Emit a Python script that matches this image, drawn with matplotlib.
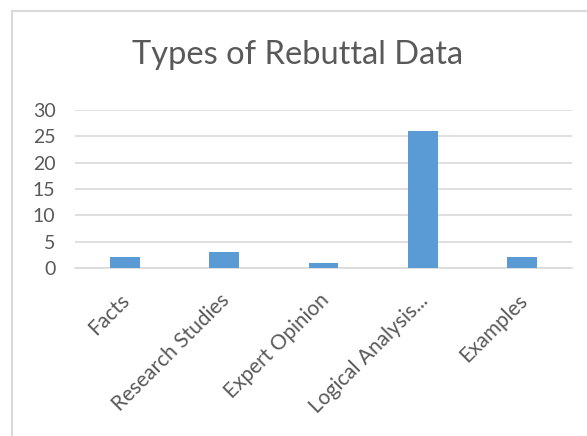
import matplotlib
matplotlib.use("Agg")
import matplotlib.pyplot as plt
from matplotlib.patches import Rectangle
from matplotlib.transforms import ScaledTranslation

# --------------------------------------
# Data
# --------------------------------------
categories = ["Facts", "Research Studies", "Expert Opinion", "Logical Analysis...", "Examples"]
counts = [2, 3, 1, 26, 2]
y_ticks = [0, 5, 10, 15, 20, 25, 30]

title = "Types of Rebuttal Data"
bar_color = "#5b9bd5"
text_color = "#595959"
grid_color = "#d9d9d9"

plt.rcParams["font.family"] = ["Lato", "DejaVu Sans"]

# --------------------------------------
# Figure
# --------------------------------------
fig = plt.figure(figsize=(5.87, 4.36), dpi=100)
fig.patch.set_facecolor("white")

# chart frame (extends past the right/bottom edges of the crop)
frame = Rectangle((12 / 587, -0.2), 1.2, 1.2 - 11 / 436,
                  transform=fig.transFigure, fill=False,
                  edgecolor=grid_color, linewidth=1.5)
fig.patches.append(frame)

ax = fig.add_axes([75 / 587, 168 / 436, 497 / 587, 158 / 436])

x = range(len(categories))
ax.bar(x, counts, width=0.30, color=bar_color, zorder=3)

ax.set_xlim(-0.5, len(categories) - 0.5)
ax.set_ylim(0, 30)
ax.set_yticks(y_ticks)
ax.set_xticks(list(x))
ax.set_xticklabels(categories, rotation=45, ha="right", rotation_mode="anchor")

ax.tick_params(axis="y", length=0, labelsize=14, colors=text_color, pad=14)
ax.tick_params(axis="x", length=0, labelsize=15, colors=text_color, pad=16)

# nudge rotated labels a little to the left
shift = ScaledTranslation(-5 / 100, 0, fig.dpi_scale_trans)
for lbl in ax.get_xticklabels():
    lbl.set_transform(lbl.get_transform() + shift)

ax.grid(axis="y", color=grid_color, linewidth=1.2, zorder=0)
for s in ["top", "right", "left"]:
    ax.spines[s].set_visible(False)
ax.spines["bottom"].set_color(grid_color)
ax.spines["bottom"].set_linewidth(1.2)

fig.text(298 / 587, 1 - 64 / 436, title, ha="center", va="baseline",
         fontsize=23.5, color=text_color)

plt.savefig("out.png", dpi=100)
plt.close()
